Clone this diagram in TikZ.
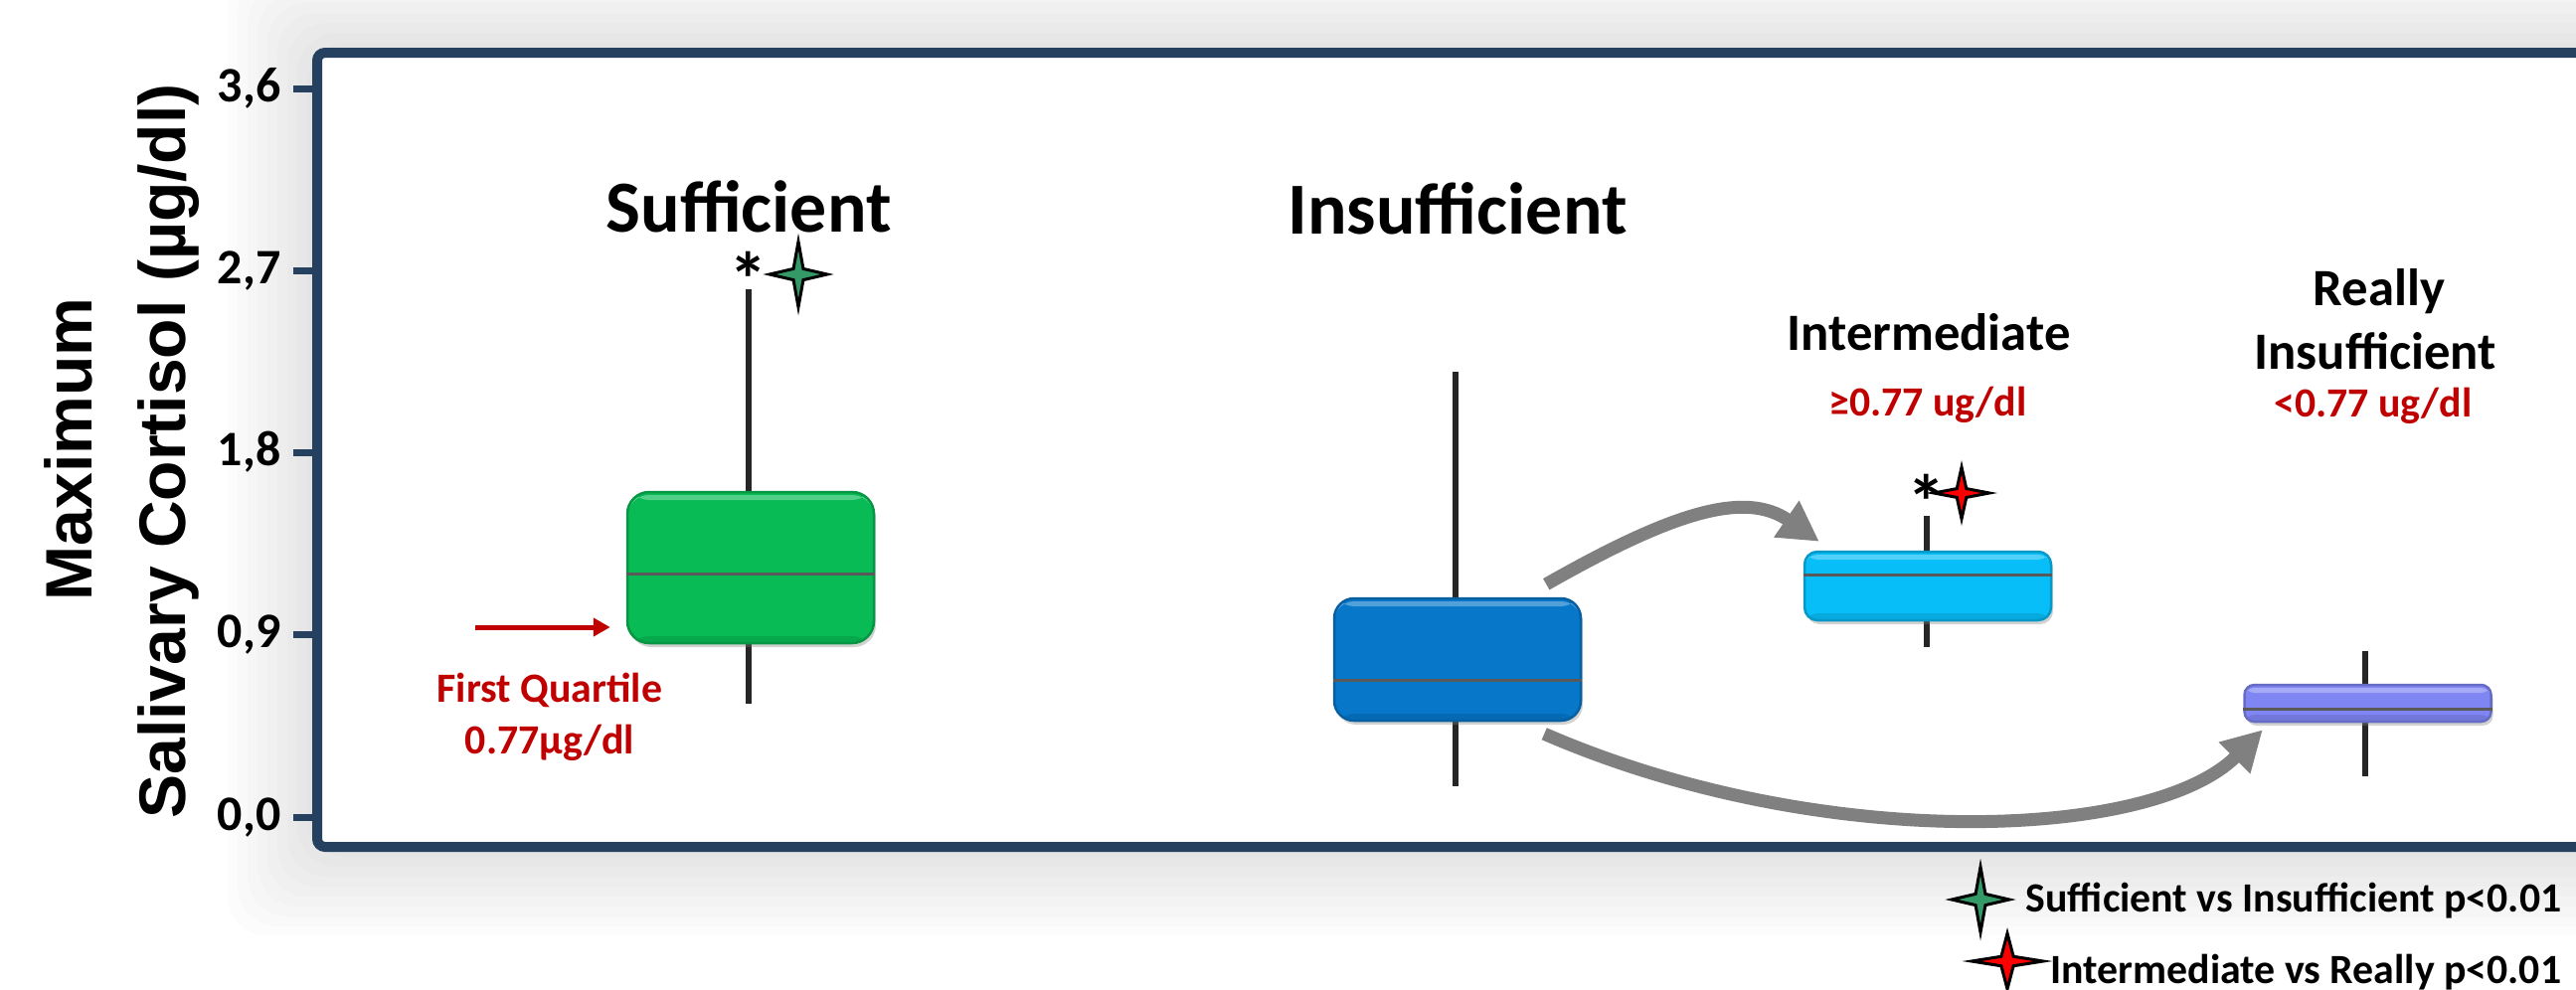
\documentclass[tikz,border=0pt]{standalone}
\usepackage{fontspec}
\setmainfont{Carlito}
\newfontfamily\axisfam{Liberation Sans}
\usetikzlibrary{arrows.meta,calc,shadows}

\definecolor{framecol}{RGB}{38,64,96}
\definecolor{sufcol}{RGB}{8,187,85}
\definecolor{inscol}{RGB}{6,119,201}
\definecolor{intcol}{RGB}{7,190,248}
\definecolor{realcol}{RGB}{127,134,244}
\definecolor{qred}{RGB}{192,0,0}
\definecolor{stargreen}{RGB}{51,153,102}
\definecolor{starred}{RGB}{255,0,0}
\definecolor{arrowgray}{RGB}{128,128,128}
\definecolor{whiskcol}{RGB}{38,38,38}
\definecolor{medcol}{RGB}{89,89,89}

\newcommand\fGroup{\fontsize{21}{25}\selectfont\bfseries}
\newcommand\fSub{\fontsize{15}{18}\selectfont\bfseries}
\newcommand\fNote{\fontsize{11.9}{14}\selectfont\bfseries}
\newcommand\fTick{\fontsize{14.2}{17}\selectfont\bfseries}
\newcommand\fAst{\fontsize{22}{26}\selectfont\bfseries}
\newcommand\fAxis{\axisfam\fontsize{18.8}{22}\selectfont\bfseries}

\tikzset{
  whisker/.style={draw=whiskcol, line width=0.6mm},
  median/.style={draw=medcol, line width=0.3mm},
  plotbox/.style={draw=#1!80!black, line width=0.25mm, fill=#1,
    minimum width=24.8mm, inner sep=0pt,
    drop shadow={shadow xshift=0.2mm, shadow yshift=-0.4mm, opacity=0.35},
    path picture={
      \fill[white, opacity=0.3]
        ([yshift=-0.3mm]path picture bounding box.north west) rectangle
        ([yshift=-0.8mm]path picture bounding box.north east);
      \fill[black, opacity=0.1]
        ([yshift=0.7mm]path picture bounding box.south west) rectangle
        (path picture bounding box.south east);
    }},
  flow/.style={draw=arrowgray, line width=1.3mm,
    -{Triangle[length=4mm,width=4.2mm]}},
  qarrow/.style={draw=qred, line width=0.5mm,
    -{Triangle[length=1.7mm,width=1.8mm]}},
  axistick/.style={draw=framecol, line width=0.7mm},
  lbl/.style={inner sep=0pt, anchor=base},
  tickl/.style={inner sep=0pt, anchor=base east, font=\fTick},
  pics/sparkle/.style={code={
    \filldraw[fill=#1, draw=black, line width=0.3mm, line join=miter]
      (0,-1) -- (0.17,-0.17) -- (1,0) -- (0.17,0.17) -- (0,1)
      -- (-0.17,0.17) -- (-1,0) -- (-0.17,-0.17) -- cycle;}},
}

\begin{document}
\begin{tikzpicture}[x=0.1mm, y=-0.1mm]
\useasboundingbox (0,0) rectangle (2591,995);
\clip (0,0) rectangle (2591,995);

% soft shadow around the plot frame
\foreach \k in {1,...,9}
  \fill[black, opacity=0.011, rounded corners=4mm]
    ({319-10*\k},{53-10*\k}) rectangle ({2800},{852+10*\k});

% plot frame
\draw[framecol, line width=1mm, fill=white, rounded corners=0.8mm]
  (319,53) rectangle (2800,852);

% y axis ticks and labels
\draw[axistick] (295,822) -- (319,822);
\draw[axistick] (295,638.75) -- (319,638.75);
\draw[axistick] (295,455.5) -- (319,455.5);
\draw[axistick] (295,272.3) -- (319,272.3);
\draw[axistick] (295,89) -- (319,89);
\node[tickl] (t0) at (283,835) {0,0};
\node[tickl] (t1) at (283,651.75) {0,9};
\node[tickl] (t2) at (283,468.5) {1,8};
\node[tickl] (t3) at (283,285.3) {2,7};
\node[tickl] (t4) at (283,102) {3,6};

% y axis title
\node[lbl, rotate=90, font=\fAxis] (ytitle1) at (92,452) {Maximum};
\node[lbl, rotate=90, font=\fAxis] (ytitle2) at (186,454) {Salivary Cortisol (µg/dl)};

% whiskers
\draw[whisker] (753,291) -- (753,708);
\draw[whisker] (1464,374) -- (1464,791);
\draw[whisker] (1938,519) -- (1938,651);
\draw[whisker] (2379,655) -- (2379,781);

% boxes
\node[plotbox=sufcol, rounded corners=2.2mm, minimum height=15.2mm] (suf) at (755,571) {};
\node[plotbox=inscol, rounded corners=2mm, minimum height=12.3mm] (ins) at (1466,663.5) {};
\node[plotbox=intcol, rounded corners=1.3mm, minimum height=6.9mm] (intm) at (1939,589.5) {};
\node[plotbox=realcol, rounded corners=1mm, minimum height=3.7mm] (real) at (2381.5,707.5) {};

% medians
\coordinate (sufmed) at (755,577);
\coordinate (insmed) at (1466,684);
\coordinate (intmed) at (1939,578);
\coordinate (realmed) at (2381,713);
\draw[median] (suf.west |- sufmed) -- (suf.east |- sufmed);
\draw[median] (ins.west |- insmed) -- (ins.east |- insmed);
\draw[median] (intm.west |- intmed) -- (intm.east |- intmed);
\draw[median] (real.west |- realmed) -- (real.east |- realmed);

% split of the insufficient group
\draw[flow] ($(ins.north east)+(-36,-13)$) .. controls +(130,-74) and +(-74,-51) .. ($(intm.north west)+(16,-9)$);
\draw[flow] ($(ins.south east)+(-38,12)$) .. controls +(276,120) and +(-112,112) .. ($(real.south west)+(19.5,7)$);

% first quartile note
\coordinate (fqtail) at (478,631);
\draw[qarrow] (fqtail) -- ([xshift=-1.6mm]suf.west |- fqtail);
\node[lbl, font=\fNote, text=qred] (fq1) at (553,706) {First Quartile};
\node[lbl, font=\fNote, text=qred] (fq2) at (553,758) {0.77µg/dl};

% group titles
\node[lbl, font=\fGroup] (sufl) at (753,233) {Sufficient};
\node[lbl, font=\fGroup] (insl) at (1466,235) {Insufficient};
\node[lbl, font=\fSub] (intl) at (1940,352) {Intermediate};
\node[lbl, font=\fNote, text=qred] (intv) at (1939,418) {≥0.77 ug/dl};
\node[lbl, font=\fSub, text depth=0pt] (reall1) at (2393,307) {Really};
\node[lbl, font=\fSub, text depth=0pt] (reall2) at (2389,371) {Insufficient};
\node[lbl, font=\fNote, text=qred, text height=2.4mm] (realv) at (2387,419) {<0.77 ug/dl};

% significance marks
\node[inner sep=0pt, anchor=north, font=\fAst] (sufast) at (753,252) {*};
\pic[xscale=29, yscale=33] at (803,276) {sparkle=stargreen};
\node[inner sep=0pt, anchor=north, font=\fAst] (intast) at (1938,476) {*};
\pic[xscale=28, yscale=26] at (1973,496) {sparkle=starred};

% legend
\pic[xscale=29, yscale=33] at (1992,905) {sparkle=stargreen};
\node[inner sep=0pt, anchor=base east, font=\fNote] (leg1) at (2577,917) {Sufficient vs Insufficient p<0.01};
\pic[xscale=36, yscale=28] at (2019,967) {sparkle=starred};
\node[inner sep=0pt, anchor=base east, font=\fNote] (leg2) at (2577,989) {Intermediate vs Really p<0.01};
\end{tikzpicture}
\end{document}
